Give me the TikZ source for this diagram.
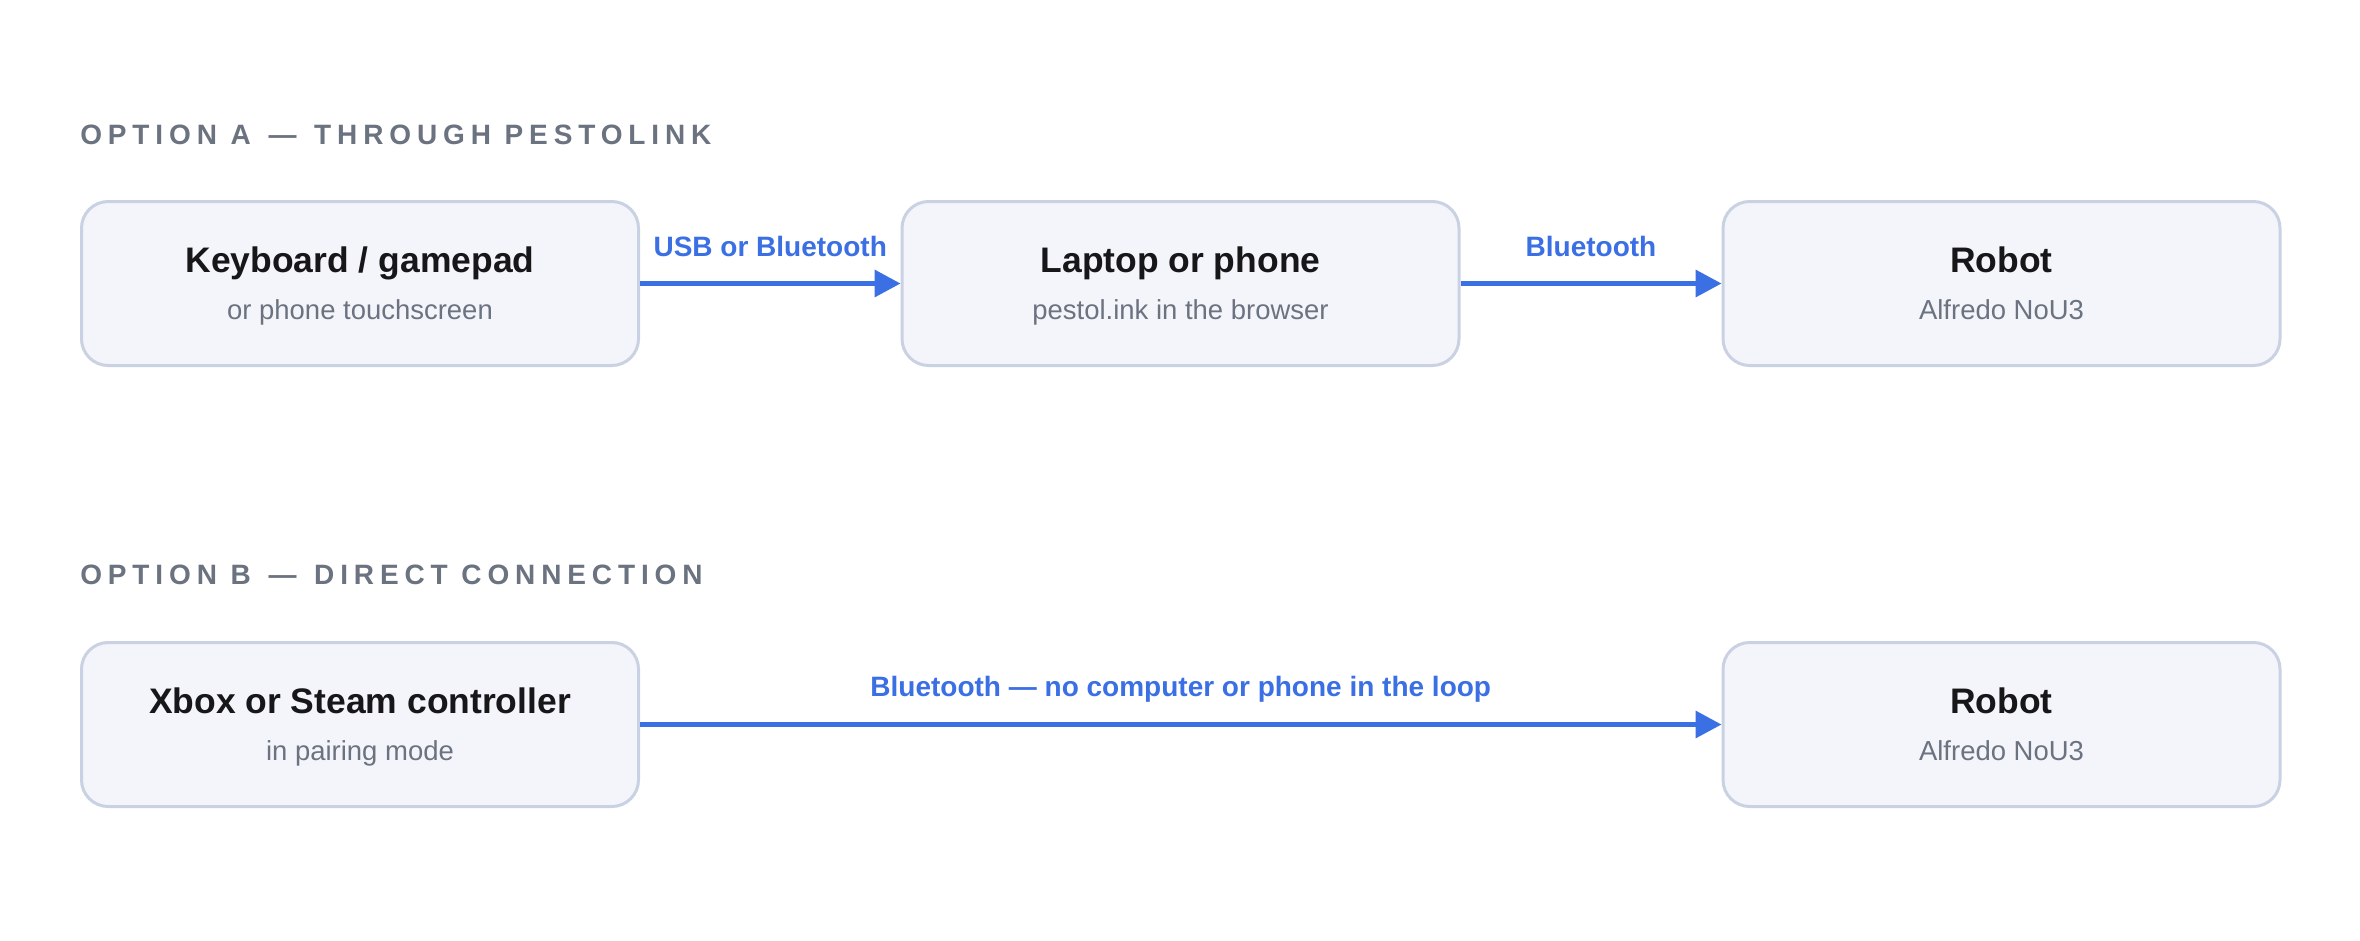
\documentclass[tikz,border=0pt]{standalone}
\usepackage{fontspec}
\setmainfont{Liberation Sans}
\newfontfamily\hdfont[LetterSpace=21]{Liberation Sans}
\usetikzlibrary{arrows.meta,calc}
\definecolor{boxfill}{HTML}{F4F5FA}
\definecolor{boxline}{HTML}{C9D1E3}
\definecolor{flow}{HTML}{3B6FE4}
\definecolor{hdgray}{HTML}{6B7280}
\definecolor{subgray}{HTML}{6B7280}
\definecolor{ink}{HTML}{17171A}
\begin{document}
\begin{tikzpicture}[x=0.75pt,y=-0.75pt,
  box/.style={draw=boxline, line width=2.25pt, fill=boxfill, rounded corners=20pt,
    minimum width=417.75pt, minimum height=123pt, inner sep=0pt},
  ttl/.style={anchor=base, inner sep=0pt, text=ink, font=\fontsize{26.6pt}{30pt}\selectfont\bfseries},
  sub/.style={anchor=base, inner sep=0pt, text=subgray, font=\fontsize{20.6pt}{24pt}\selectfont},
  hd/.style={anchor=base west, inner sep=0pt, text=hdgray, font=\fontsize{21pt}{24pt}\hdfont\bfseries},
  lbl/.style={anchor=base, inner sep=0pt, text=flow, font=\fontsize{21pt}{24pt}\selectfont\bfseries},
  flowarrow/.style={draw=flow, line width=3.4pt, -{Triangle[length=19.5pt,width=20pt]}}]
\fill[white] (0,0) rectangle (2360,940);
\useasboundingbox (0,0) rectangle (2360,940);

% headers
\node[hd] (hA) at (80,144) {OPTION A\hspace{3pt} — \hspace{3pt}THROUGH PESTOLINK};
\node[hd] (hB) at (80,584) {OPTION B\hspace{3pt} — \hspace{3pt}DIRECT CONNECTION};

% row A boxes
\node[box] (a1) at (360,283.5) {};
\node[box] (a2) at (1180.5,283.5) {};
\node[box] (a3) at (2001.5,283.5) {};
% row B boxes
\node[box] (b1) at (360,724.5) {};
\node[box] (b3) at (2001.5,724.5) {};

% texts
\node[ttl] (a1t) at ($(a1.center)+(0,-11.5)$) {Keyboard / gamepad};
\node[sub] (a1s) at ($(a1.center)+(0,35.5)$) {or phone touchscreen};
\node[ttl] (a2t) at ($(a2.center)+(0,-11.5)$) {Laptop or phone};
\node[sub] (a2s) at ($(a2.center)+(0,35.5)$) {pestol.ink in the browser};
\node[ttl] (a3t) at ($(a3.center)+(0,-11.5)$) {Robot};
\node[sub] (a3s) at ($(a3.center)+(0,35.5)$) {Alfredo NoU3};
\node[ttl] (b1t) at ($(b1.center)+(0,-11.5)$) {Xbox or Steam controller};
\node[sub] (b1s) at ($(b1.center)+(0,35.5)$) {in pairing mode};
\node[ttl] (b3t) at ($(b3.center)+(0,-11.5)$) {Robot};
\node[sub] (b3s) at ($(b3.center)+(0,35.5)$) {Alfredo NoU3};

% connectors
\draw[flowarrow] (a1.east) -- (a2.west);
\draw[flowarrow] (a2.east) -- (a3.west);
\draw[flowarrow] (b1.east) -- (b3.west);
\node[lbl] (la1) at ($($(a1.east)!0.5!(a2.west)$)+(0,-27.5)$) {USB or Bluetooth};
\node[lbl] (la2) at ($($(a2.east)!0.5!(a3.west)$)+(0,-27.5)$) {Bluetooth};
\node[lbl] (lb1) at ($($(b1.east)!0.5!(b3.west)$)+(0,-28.5)$) {Bluetooth — no computer or phone in the loop};
\end{tikzpicture}
\end{document}
